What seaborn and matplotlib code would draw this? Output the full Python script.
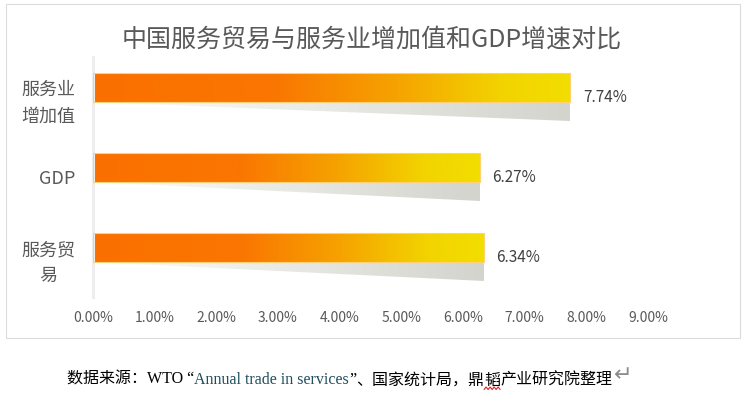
import numpy as np
import pandas as pd
import seaborn as sns
import matplotlib.pyplot as plt
from matplotlib.patches import Polygon, Rectangle
from matplotlib.lines import Line2D

# data
categories = ['服务业\n增加值', 'GDP', '服务贸\n易']
growth = [7.74, 6.27, 6.34]          # growth rate, %
xticks = [0, 1, 2, 3, 4, 5, 6, 7, 8, 9]

title = '中国服务贸易与服务业增加值和GDP增速对比'
source_parts = ['数据来源：WTO “', 'Annual trade in services', '”', '、国家统计局，鼎', '韬', '产业研究院整理']

df = pd.DataFrame({'item': categories, 'rate': growth})

sns.set_theme(style='white')
plt.rcParams['font.family'] = ['Noto Sans CJK SC', 'DejaVu Sans']

fig = plt.figure(figsize=(7.44, 3.93), dpi=100)
ax = fig.add_axes([93 / 744, 1 - 297 / 393, 555 / 744, 240 / 393])

# bar + shadow together take 0.59 of a band; top 60% is the coloured bar
sns.barplot(data=df, x='rate', y='item', orient='h', width=0.59, color='orange', ax=ax)

# orange -> yellow gradient along each bar
stops = [0.0, 0.38, 0.62, 0.86, 1.0]
reds = [250, 250, 246, 242, 242]
greens = [112, 118, 160, 212, 222]
blues = [0, 2, 0, 0, 0]
s = np.linspace(0, 1, 256)
bar_grad = np.stack([np.interp(s, stops, reds), np.interp(s, stops, greens),
                     np.interp(s, stops, blues)], axis=1) / 255.0
gray_grad = np.stack([np.interp(s, [0, 1], [253, 212]),
                      np.interp(s, [0, 1], [253, 212]),
                      np.interp(s, [0, 1], [251, 206])], axis=1) / 255.0

for p, v in zip(ax.patches[:len(growth)], growth):
    y0 = p.get_y()
    h = p.get_height()
    bar_h = h * 0.6
    p.set_height(bar_h)
    p.set_facecolor('none')
    p.set_edgecolor((1.0, 0.82, 0.45))
    p.set_linewidth(0.8)
    p.set_zorder(3)
    im = ax.imshow(bar_grad[np.newaxis, :, :], extent=[0, v, y0 + bar_h, y0],
                   aspect='auto', zorder=2)
    im.set_clip_path(p)
    # wedge shaped shadow under the bar
    yb = y0 + bar_h
    shadow = Polygon([(0, yb), (v, yb), (v, y0 + h)], closed=True,
                     facecolor='none', edgecolor='none')
    ax.add_patch(shadow)
    sim = ax.imshow(gray_grad[np.newaxis, :, :], extent=[0, v, y0 + h, yb],
                    aspect='auto', zorder=1)
    sim.set_clip_path(shadow)
    ax.annotate(f'{v:.2f}%', xy=(v, y0 + h / 2), xytext=(9, 0),
                textcoords='offset points', va='center', ha='left',
                fontsize=11, color='#404040')

ax.set_xlim(0, 9)
ax.set_ylim(2.5, -0.5)
ax.set_xticks(xticks)
ax.set_xticklabels([f'{t:.2f}%' for t in xticks], fontsize=10, color='#595959')
ax.set_yticks(range(len(categories)))
ax.set_yticklabels(categories, fontsize=13, color='#595959',
                   multialignment='center', linespacing=1.6)
ax.tick_params(axis='x', length=0, pad=10)
ax.tick_params(axis='y', length=0, pad=13)
ax.set_xlabel('')
ax.set_ylabel('')
for side in ['top', 'right', 'bottom']:
    ax.spines[side].set_visible(False)
ax.spines['left'].set_color('#eeeeee')
ax.spines['left'].set_linewidth(2.2)
ax.set_facecolor('none')

# chart frame
fig.patches.append(Rectangle((6 / 744, 1 - 338 / 393), 734 / 744, 334 / 393,
                             transform=fig.transFigure, fill=False,
                             edgecolor='#dcdcdc', linewidth=0.8))

fig.text(0.5, 1 - 40 / 393, title, ha='center', va='center',
         fontsize=18, color='#595959')

# source line, pieces laid out one after another
fig.canvas.draw()
renderer = fig.canvas.get_renderer()
x = 67 / 744
y = 1 - 380 / 393
colors = ['black', '#1f4e5f', 'black', 'black', 'black', 'black']
fams = [['Liberation Serif', 'Noto Sans CJK SC'], ['Liberation Serif'],
        ['Liberation Serif'], ['Noto Sans CJK SC'],
        ['Noto Sans CJK SC'], ['Noto Sans CJK SC']]
for part, c, fam in zip(source_parts, colors, fams):
    t = fig.text(x, y, part, ha='left', va='center', fontsize=11.5, color=c,
                 family=fam)
    bb = t.get_window_extent(renderer)
    if part == '韬':
        # spell-check squiggle under this character
        xs = np.linspace(bb.x0, bb.x1, 9) / fig.bbox.width
        ys = (bb.y0 - 1 + np.tile([0, 2.5], 5)[:9]) / fig.bbox.height
        fig.add_artist(Line2D(xs, ys, color='#e02020', lw=0.8,
                              transform=fig.transFigure))
    x = bb.x1 / fig.bbox.width
fig.text(x + 0.002, y + 0.012, '↵', ha='left', va='center', fontsize=16,
         color='#8c8c8c', family=['DejaVu Sans'])

fig.savefig('out.png', dpi=100)
